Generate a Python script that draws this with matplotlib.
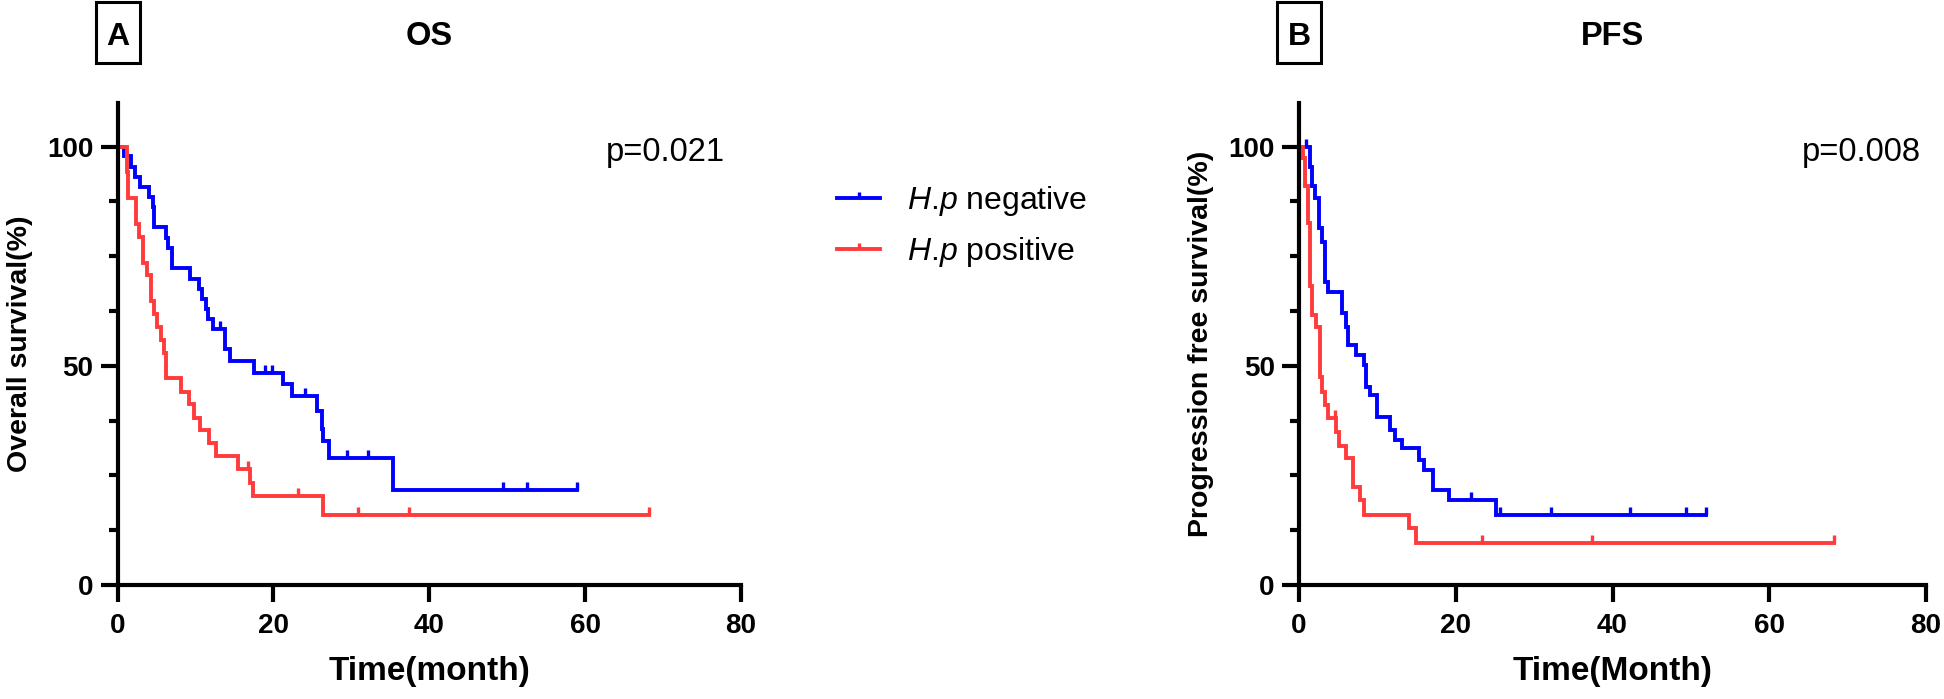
import numpy as np
import matplotlib
matplotlib.use("Agg")
import matplotlib.pyplot as plt
from matplotlib.ticker import MultipleLocator
from matplotlib.patches import Rectangle

plt.rcParams['font.family'] = ['Liberation Sans', 'DejaVu Sans']
plt.rcParams['mathtext.fontset'] = 'custom'
plt.rcParams['mathtext.it'] = 'Liberation Sans:italic'
plt.rcParams['mathtext.rm'] = 'Liberation Sans'

# ---- data (months, % surviving) ----
# A: overall survival
os_neg_t = [0, 0.8, 1.7, 2.3, 2.9, 4.1, 4.6, 4.7, 6.2, 6.5, 7.0, 9.3, 10.4, 10.8, 11.4,
            11.6, 12.3, 13.8, 14.4, 17.5, 21.2, 22.4, 25.6, 26.2, 26.4, 27.2, 35.4]
os_neg_s = [100, 97.8, 95.4, 93.1, 90.8, 88.5, 86.2, 81.6, 79.2, 76.8, 72.2, 69.8, 67.5, 65.2, 62.9,
            60.6, 58.4, 53.8, 51.1, 48.4, 45.8, 43.1, 39.7, 35.5, 32.8, 29.0, 21.7]
os_neg_end = 59.0
os_neg_cens = [13.2, 18.9, 19.8, 24.0, 29.4, 32.1, 49.4, 52.6, 59.0]

os_pos_t = [0, 1.2, 1.4, 2.4, 2.8, 3.3, 3.8, 4.3, 4.7, 5.1, 5.6, 6.0, 6.2, 8.2, 9.2, 9.8,
            10.6, 11.8, 12.6, 15.4, 17.0, 17.4, 26.4]
os_pos_s = [100, 94.1, 88.2, 82.4, 79.4, 73.5, 70.6, 64.7, 61.8, 58.8, 55.9, 52.9, 47.1, 44.1, 41.2, 38.2,
            35.3, 32.4, 29.4, 26.5, 23.3, 20.2, 16.0]
os_pos_end = 68.2
os_pos_cens = [16.8, 23.2, 30.8, 37.4, 68.2]

# B: progression free survival
pfs_neg_t = [0, 1.4, 1.7, 2.0, 2.5, 2.9, 3.3, 3.7, 5.5, 6.0, 6.3, 7.3, 8.3, 8.5, 9.1, 10.0,
             11.6, 12.2, 13.1, 15.3, 15.9, 17.1, 19.1, 25.1]
pfs_neg_s = [100, 95.4, 90.9, 88.2, 81.4, 78.3, 69.2, 66.9, 62.0, 58.9, 54.8, 52.5, 50.2, 45.2, 43.3, 38.4,
             35.4, 33.1, 31.2, 28.5, 26.2, 21.7, 19.4, 16.0]
pfs_neg_end = 51.9
pfs_neg_cens = [0.9, 22.0, 25.7, 32.2, 42.2, 49.4, 51.9]

pfs_pos_t = [0, 0.5, 0.8, 1.2, 1.4, 1.7, 2.2, 2.65, 2.95, 3.3, 3.7, 4.7, 5.1, 6.0, 6.95,
             7.75, 8.3, 14.0, 14.95]
pfs_pos_s = [100, 97.3, 90.9, 82.5, 68.1, 61.6, 58.9, 47.5, 44.1, 41.1, 38.0, 35.0, 31.6, 28.9, 22.4,
             19.4, 16.0, 12.9, 9.5]
pfs_pos_end = 68.2
pfs_pos_cens = [4.6, 23.3, 37.4, 68.2]

labels = [r'$\it{H}$.$\it{p}$ negative', r'$\it{H}$.$\it{p}$ positive']
blue = '#0000FF'
red = '#FF3B3B'

W, H = 1944, 699
fig = plt.figure(figsize=(W / 100, H / 100), dpi=100)

tick_marker = [(0, 0), (0, 1)]  # censor tick pointing up


def km(ax, t, s, end, cens, color, label):
    tt = list(t) + [end]
    ss = list(s) + [s[-1]]
    ax.step(tt, ss, where='post', color=color, lw=2.8, clip_on=False,
            solid_joinstyle='miter', label=label)
    idx = np.searchsorted(t, cens, side='right') - 1
    cy = np.array(s)[idx]
    ax.plot(cens, cy, ls='none', marker=tick_marker, ms=11, mew=2.4, color=color, clip_on=False)
    # proxy for the legend: line with tick in the middle
    h, = ax.plot([], [], color=color, lw=2.8, marker=tick_marker, ms=9, mew=2.4)
    return h


def style(ax, xlabel, ylabel):
    ax.set_xlim(0, 80)
    ax.set_ylim(0, 110)
    ax.set_xticks([0, 20, 40, 60, 80])
    ax.set_yticks([0, 50, 100])
    ax.yaxis.set_minor_locator(MultipleLocator(12.5))
    for sp in ['top', 'right']:
        ax.spines[sp].set_visible(False)
    for sp in ['left', 'bottom']:
        ax.spines[sp].set_linewidth(3)
    ax.tick_params(which='major', length=12.5, width=3, labelsize=20, direction='out')
    ax.tick_params(axis='y', which='minor', length=6.5, width=3, direction='out')
    ax.tick_params(axis='y', which='major', pad=5)
    ax.tick_params(axis='x', which='major', pad=8)
    for lab in ax.get_xticklabels() + ax.get_yticklabels():
        lab.set_fontweight('bold')
    ax.set_xlabel(xlabel, fontsize=24, fontweight='bold', labelpad=12)
    ax.set_ylabel(ylabel, fontsize=20.5, fontweight='bold', labelpad=10)


axA = fig.add_axes([117.5 / W, 114 / H, 623.5 / W, 482.3 / H])
axB = fig.add_axes([1299 / W, 114 / H, 627 / W, 482.3 / H])

hA1 = km(axA, os_neg_t, os_neg_s, os_neg_end, os_neg_cens, blue, labels[0])
hA2 = km(axA, os_pos_t, os_pos_s, os_pos_end, os_pos_cens, red, labels[1])
km(axB, pfs_neg_t, pfs_neg_s, pfs_neg_end, pfs_neg_cens, blue, labels[0])
km(axB, pfs_pos_t, pfs_pos_s, pfs_pos_end, pfs_pos_cens, red, labels[1])

style(axA, 'Time(month)', 'Overall survival(%)')
style(axB, 'Time(Month)', 'Progression free survival(%)')

axA.text(78, 96.7, 'p=0.021', ha='right', va='baseline', fontsize=23.5)
axB.text(79.3, 96.7, 'p=0.008', ha='right', va='baseline', fontsize=23.5)

# panel titles and boxed letters
for ax, title, letter in [(axA, 'OS', 'A'), (axB, 'PFS', 'B')]:
    pos = ax.get_position()
    fig.text((pos.x0 + pos.x1) / 2, 1 - 45 / H, title, ha='center', va='baseline',
             fontsize=23.5, fontweight='bold')
    fig.text(pos.x0, 1 - 45 / H, letter, ha='center', va='baseline',
             fontsize=23, fontweight='bold')
    fig.add_artist(Rectangle((pos.x0 - 22 / W, 1 - 63 / H), 44 / W, 61 / H,
                             transform=fig.transFigure, fill=False, lw=2.2, ec='black'))

fig.legend([hA1, hA2], labels, loc='center left', bbox_to_anchor=(837 / W, 1 - 226.5 / H),
           frameon=False, fontsize=23, handlelength=1.35, handletextpad=0.85,
           labelspacing=0.55, borderpad=0, borderaxespad=0, numpoints=1)

fig.savefig('out.png', dpi=100, facecolor='white')
